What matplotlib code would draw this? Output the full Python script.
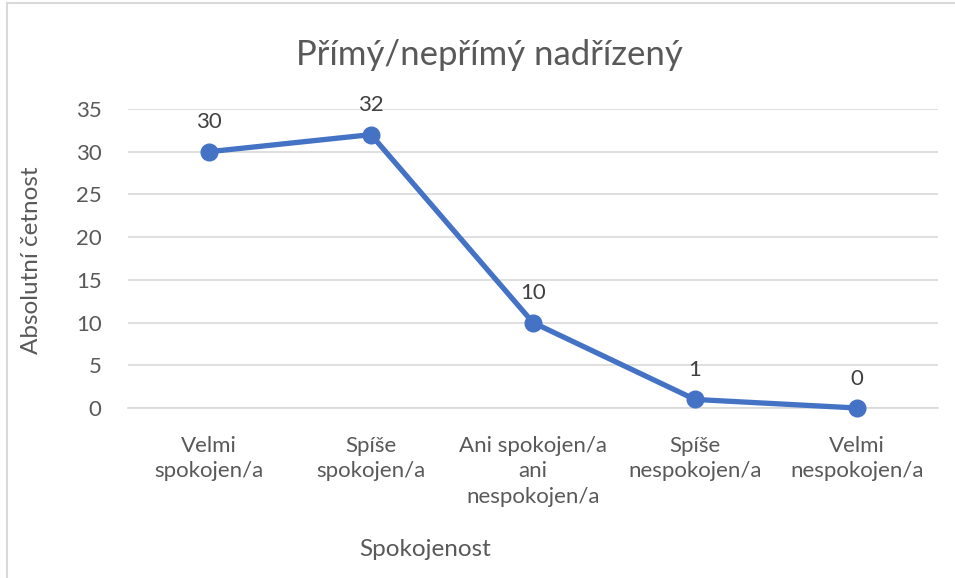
import matplotlib.pyplot as plt
from matplotlib.patches import Rectangle

categories = ["Velmi\nspokojen/a", "Spíše\nspokojen/a", "Ani spokojen/a\nani\nnespokojen/a",
              "Spíše\nnespokojen/a", "Velmi\nnespokojen/a"]
counts = [30, 32, 10, 1, 0]
yticks = [0, 5, 10, 15, 20, 25, 30, 35]

plt.rcParams['font.family'] = ['Lato', 'DejaVu Sans']
text_color = '#595959'
line_color = '#4472C4'

fig = plt.figure(figsize=(9.55, 5.78), dpi=100)
ax = fig.add_axes([128 / 955, 1 - 408 / 578, 810 / 955, 299 / 578])

x = list(range(len(categories)))
ax.plot(x, counts, color=line_color, linewidth=3.8, marker='o', markersize=12,
        solid_capstyle='round', zorder=3, clip_on=False)

# data labels above each point
for i, v in enumerate(counts):
    ax.annotate(str(v), (i, v), xytext=(0, 14), textcoords='offset points',
                ha='center', va='bottom', fontsize=16, color='#404040')

ax.set_xlim(-0.5, len(categories) - 0.5)
ax.set_ylim(0, 35)
ax.set_yticks(yticks)
ax.set_xticks(x)
ax.set_xticklabels(categories, linespacing=1.35)
ax.tick_params(axis='both', length=0, labelsize=16, colors=text_color)
ax.tick_params(axis='x', pad=20)
ax.tick_params(axis='y', pad=19)
ax.grid(axis='y', color='#d9d9d9', linewidth=1.2)
ax.set_axisbelow(True)
for s in ['top', 'right', 'left']:
    ax.spines[s].set_visible(False)
ax.spines['bottom'].set_color('#d9d9d9')
ax.spines['bottom'].set_linewidth(1.2)

fig.text(489 / 955, 1 - 55 / 578, "Přímý/nepřímý nadřízený", ha='center', va='center',
         fontsize=25, color=text_color)
fig.text(32 / 955, 1 - 260 / 578, "Absolutní četnost", ha='center', va='center',
         rotation=90, fontsize=17.5, color=text_color)
fig.text(425 / 955, 1 - 549 / 578, "Spokojenost", ha='center', va='center',
         fontsize=17.5, color=text_color)

fig.patches.append(Rectangle((7 / 955, -0.05), 1.1, 1.05 - 3 / 578, transform=fig.transFigure,
                             fill=False, edgecolor='#d9d9d9', linewidth=1.5))

fig.savefig("out.png", dpi=100)
